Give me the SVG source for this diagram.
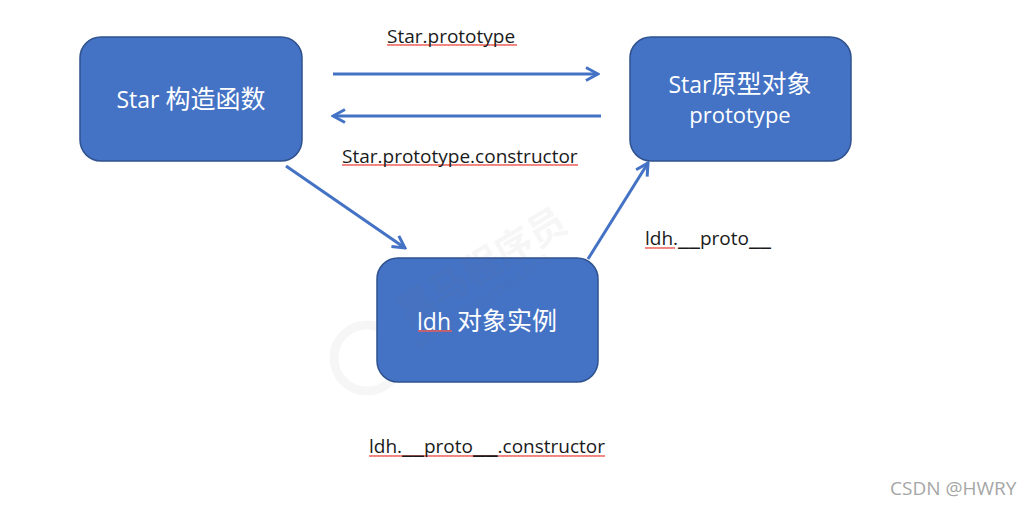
<svg xmlns="http://www.w3.org/2000/svg" width="1032" height="506" viewBox="0 0 1032 506">
<style>
text{font-family:"Open Sans","Noto Sans CJK SC",sans-serif}
.box{fill:#4472c4;stroke:#2f528f;stroke-width:1.5}
.nt{fill:#fff;font-size:23px;text-anchor:middle}
.cj{font-size:25px}
.lb{fill:#1a1a1a;font-size:19px}
.us{font-size:25px}
.ub{font-size:28px}
.con{fill:none;stroke:#4472c4;stroke-width:3}
.sq{fill:url(#wave)}
.wm{fill:#777;opacity:.06}
</style>
<defs>
<marker id="ah" viewBox="0 0 16 16" refX="14" refY="8" markerWidth="16" markerHeight="16" markerUnits="userSpaceOnUse" orient="auto"><path d="M2 1.5L14 8L2 14.5" fill="none" stroke="#4472c4" stroke-width="3"/></marker>
<pattern id="wave" width="4" height="4" patternUnits="userSpaceOnUse"><path d="M0 3L1 1L2 3L3 1L4 3" fill="none" stroke="#ee5a55" stroke-width=".9"/></pattern>
</defs>
<rect width="1032" height="506" fill="#fff"/>
<circle cx="367" cy="358" r="33" fill="none" stroke="#000" stroke-width="9" opacity=".035"/>
<g id="connectors">
<path class="con" marker-end="url(#ah)" d="M333 74H598"/>
<path class="con" marker-end="url(#ah)" d="M601 116H333"/>
<path class="con" marker-end="url(#ah)" d="M286 166L405 248"/>
<path class="con" marker-end="url(#ah)" d="M588 259L648 163"/>
</g>
<g id="node-star">
<rect class="box" x="80" y="37" width="222" height="124" rx="21"/>
<text class="nt" x="191" y="108">Star <tspan class="cj">构造函数</tspan></text>
</g>
<g id="node-prototype">
<rect class="box" x="630" y="37" width="221" height="124" rx="21"/>
<text class="nt" x="740" y="93">Star<tspan class="cj">原型对象</tspan></text>
<text class="nt" x="740" y="123" style="font-size:22px">prototype</text>
</g>
<g id="node-ldh">
<rect class="box" x="377" y="258" width="221" height="124" rx="21"/>
<rect class="sq" transform="translate(418 329)" width="34" height="4"/>
<text class="nt" x="487" y="330">ldh <tspan class="cj">对象实例</tspan></text>
</g>
<g id="watermark">
<text class="wm" transform="translate(407 327) rotate(-31)" font-size="38" font-weight="700">黑马程序员</text>
<text class="wm" transform="translate(420 350) rotate(-34)" font-size="19">www.itheima.com</text>
</g>
<g id="label-star-prototype">
<rect class="sq" transform="translate(387 43)" width="130" height="4"/>
<text class="lb" x="387" y="43">Star.prototype</text>
</g>
<g id="label-constructor">
<rect class="sq" transform="translate(342 163)" width="236" height="4"/>
<text class="lb" x="342" y="163">Star.prototype.constructor</text>
</g>
<g id="label-proto">
<rect class="sq" transform="translate(645 246)" width="30" height="4"/>
<text class="lb" x="645" y="245">ldh.<tspan class="us">__</tspan>proto<tspan class="us">__</tspan></text>
</g>
<g id="label-proto-constructor">
<rect class="sq" transform="translate(369 454)" width="236" height="4"/>
<text class="lb" x="369" y="453">ldh.<tspan class="us">__</tspan>proto<tspan class="ub">__</tspan>.constructor</text>
</g>
<text x="890" y="495" font-size="19" fill="#a6a6a6">CSDN @HWRY</text>
</svg>
